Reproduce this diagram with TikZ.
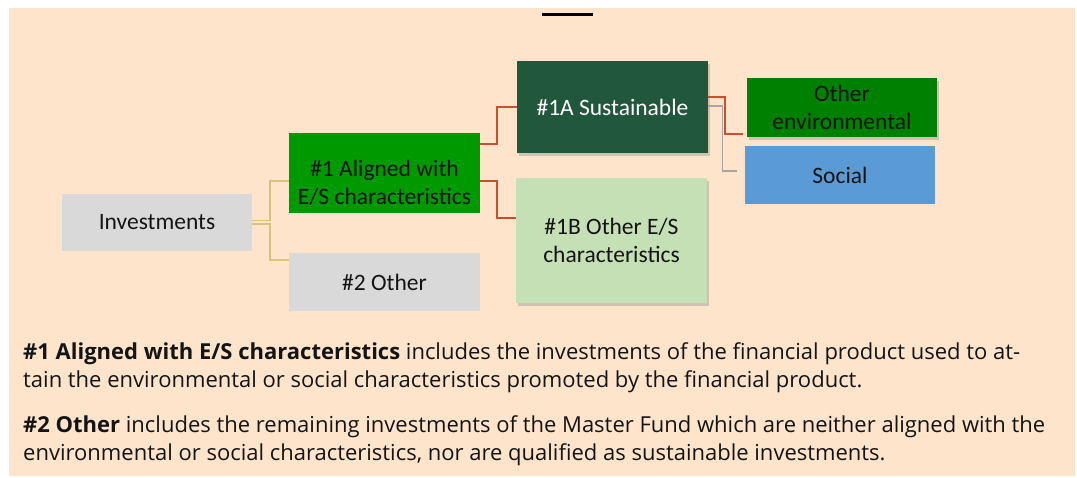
\documentclass[tikz,border=0pt]{standalone}
\usepackage{fontspec}
\setmainfont{Carlito}
\newfontfamily\notefont{Open Sans}
\usetikzlibrary{shadows}

\definecolor{peach}{RGB}{253,228,202}
\definecolor{boxgray}{RGB}{217,217,217}
\definecolor{esgreen}{RGB}{0,153,0}
\definecolor{sustgreen}{RGB}{33,87,58}
\definecolor{lightgreen}{RGB}{197,224,180}
\definecolor{envgreen}{RGB}{0,128,0}
\definecolor{socialblue}{RGB}{91,155,213}
\definecolor{tanline}{RGB}{214,196,120}
\definecolor{redline}{RGB}{200,80,45}
\definecolor{grayline}{RGB}{165,165,165}
\definecolor{textdark}{RGB}{20,20,20}

\tikzset{
	catbox/.style={minimum width=191pt, inner sep=2pt, align=center, text=textdark,
		font=\fontsize{23.5}{27.5}\selectfont},
	boxshadow/.style={drop shadow={shadow xshift=2pt, shadow yshift=-3pt, opacity=0.35}},
	tanlink/.style={draw=tanline, line width=1.6pt},
	redlink/.style={draw=redline, line width=1.6pt},
	graylink/.style={draw=grayline, line width=1.4pt},
	note/.style={anchor=north west, align=left, inner sep=0pt, text=textdark,
		font=\notefont\fontsize{22}{28.5}\selectfont}
}

\begin{document}
\begin{tikzpicture}[x=1pt,y=-1pt]

\useasboundingbox (0,0) rectangle (1077,477);
\fill[peach] (9,8) rectangle (1075,476);
\draw[line width=3pt] (542,14.5) -- (593,14.5);

% boxes
\node[catbox, fill=boxgray, minimum width=190pt, minimum height=57pt] (invest) at (157,222.5) {Investments};
\node[catbox, fill=esgreen, minimum height=80pt] (aligned) at (384.5,173)
	{\raisebox{-12pt}[\height][\depth]{\begin{tabular}{@{}c@{}}\#1 Aligned with\\E/S characteristics\end{tabular}}};
\node[catbox, fill=boxgray, minimum height=58pt] (other) at (384.5,282) {\#2 Other};
\node[catbox, fill=sustgreen, boxshadow, text=white, minimum height=92pt] (sust) at (612.5,107) {\#1A Sustainable};
\node[catbox, fill=lightgreen, boxshadow, minimum height=125pt] (otheres) at (611.5,240.5) {\#1B Other E/S\\characteristics};
\node[catbox, fill=envgreen, boxshadow, minimum width=190pt, minimum height=59pt] (otherenv) at (842,107.5) {Other\\environmental};
\node[catbox, fill=socialblue, minimum width=190pt, minimum height=58pt] (social) at (840,175) {Social};

% connectors
\draw[tanlink] ([yshift=2pt]invest.east) -- ++(18,0) |- ([yshift=-8pt]aligned.west);
\draw[tanlink] ([yshift=-1.5pt]invest.east) -- ++(18,0) |- ([yshift=22pt]other.west);
\draw[redlink] ([yshift=29pt]aligned.east) -- ++(17,0) |- (sust.west);
\draw[redlink] ([yshift=-8pt]aligned.east) -- ++(17,0) |- ([yshift=22.5pt]otheres.west);
\draw[redlink, shorten >=4pt] ([yshift=10pt]sust.east) -- ++(17,0) |- ([yshift=-26.5pt]otherenv.west);
\draw[graylink, shorten >=8pt] ([yshift=1pt]sust.east) -- ++(14,0) |- ([yshift=4pt]social.west);

% notes
\node[note] (note1) at (23,342)
	{\textbf{\#1 Aligned with E/S characteristics} includes the investments of the financial product used to at-\\
	tain the environmental or social characteristics promoted by the financial product.};
\node[note] (note2) at (23,415)
	{\textbf{\#2 Other} includes the remaining investments of the Master Fund which are neither aligned with the\\
	environmental or social characteristics, nor are qualified as sustainable investments.};

\end{tikzpicture}
\end{document}
